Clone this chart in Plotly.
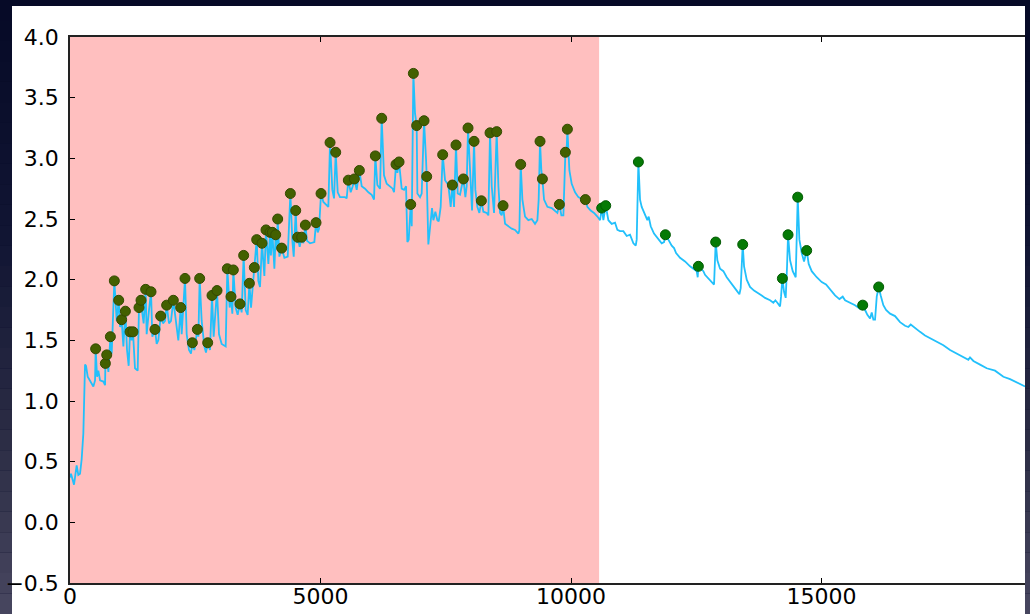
import plotly.graph_objects as go

# ---------------- data ----------------
line_x = [0, 20, 80, 133, 166, 200, 233, 266, 300, 320, 353, 400, 466, 500, 512, 540, 566, 600, 666, 700, 706, 733, 766, 806, 832,
          885, 932, 972, 1000, 1031, 1065, 1105, 1138, 1171, 1198, 1230, 1257, 1297, 1351, 1377, 1417, 1444, 1470, 1510,
          1530, 1577, 1617, 1643, 1696, 1730, 1763, 1810, 1856, 1896, 1929, 1976, 2016, 2062, 2109, 2162, 2209, 2229,
          2295, 2329, 2375, 2415, 2442, 2482, 2542, 2562, 2588, 2628, 2681, 2714, 2748, 2794, 2834, 2867, 2934, 2974,
          3027, 3107, 3140, 3187, 3213, 3240, 3260, 3306, 3346, 3393, 3426, 3466, 3506, 3546, 3580, 3613, 3679, 3726,
          3759, 3792, 3832, 3879, 3912, 3959, 3992, 4010, 4039, 4079, 4105, 4125, 4145, 4179, 4225, 4279, 4345, 4398,
          4438, 4465, 4505, 4530, 4544, 4584, 4624, 4658, 4698, 4731, 4791, 4877, 4910, 4944, 4970, 5010, 5057, 5123,
          5156, 5190, 5236, 5270, 5303, 5343, 5389, 5489, 5522, 5555, 5602, 5642, 5675, 5722, 5775, 5822, 5888, 5955,
          6021, 6068, 6094, 6134, 6188, 6221, 6267, 6321, 6387, 6440, 6467, 6507, 6534, 6567, 6620, 6667, 6707, 6733,
          6760, 6800, 6820, 6853, 6886, 6919, 6933, 6986, 7019, 7066, 7106, 7119, 7152, 7199, 7225, 7252, 7292, 7332,
          7359, 7398, 7438, 7485, 7551, 7598, 7631, 7665, 7704, 7738, 7784, 7818, 7851, 7891, 7917, 7944, 7984, 8024,
          8064, 8090, 8130, 8170, 8210, 8250, 8317, 8350, 8383, 8417, 8463, 8516, 8550, 8583, 8616, 8643, 8683, 8749,
          8816, 8882, 8949, 8969, 8995, 9029, 9082, 9148, 9215, 9281, 9328, 9354, 9381, 9407, 9428, 9461, 9528, 9614,
          9680, 9727, 9767, 9807, 9847, 9887, 9907, 9927, 9967, 10013, 10080, 10146, 10193, 10246, 10286, 10326,
          10392, 10459, 10526, 10579, 10612, 10645, 10692, 10745, 10812, 10878, 10925, 10978, 11044, 11078, 11111,
          11177, 11211, 11244, 11291, 11310, 11344, 11377, 11410, 11477, 11523, 11550, 11590, 11656, 11743, 11809,
          11856, 11883, 11942, 12009, 12056, 12096, 12175, 12275, 12375, 12455, 12508, 12528, 12541, 12588, 12641,
          12674, 12741, 12807, 12854, 12887, 12920, 12974, 13040, 13107, 13173, 13240, 13306, 13360, 13386, 13426,
          13453, 13506, 13572, 13652, 13739, 13805, 13872, 13972, 14038, 14078, 14118, 14171, 14191, 14218, 14251,
          14284, 14311, 14331, 14371, 14424, 14484, 14504, 14524, 14557, 14604, 14650, 14703, 14743, 14803, 14903,
          15003, 15089, 15169, 15269, 15356, 15422, 15469, 15568, 15668, 15768, 15821, 15868, 15914, 15968, 16001,
          16034, 16067, 16101, 16140, 16180, 16233, 16287, 16367, 16466, 16566, 16666, 16732, 16779, 16865, 16965,
          17065, 17165, 17298, 17431, 17564, 17697, 17830, 17930, 17963, 18030, 18163, 18296, 18462, 18629, 18762,
          18928, 19061]
line_y = [0.37, 0.40, 0.31, 0.47, 0.39, 0.40, 0.52, 0.73, 1.30, 1.29, 1.20, 1.17, 1.12, 1.17, 1.43, 1.20, 1.25, 1.17, 1.16, 1.13, 1.31, 1.38, 1.24, 1.53, 1.39,
          1.99, 1.66, 1.83, 1.61, 1.67, 1.45, 1.74, 1.42, 1.29, 1.57, 1.50, 1.57, 1.27, 1.25, 1.77, 1.83, 1.72, 1.64, 1.92,
          1.55, 1.75, 1.90, 1.53, 1.59, 1.47, 1.50, 1.70, 1.64, 1.66, 1.79, 1.64, 1.66, 1.83, 1.66, 1.50, 1.77, 1.55,
          2.01, 1.55, 1.42, 1.39, 1.48, 1.42, 1.59, 1.53, 2.01, 1.66, 1.45, 1.40, 1.48, 1.42, 1.87, 1.53, 1.91, 1.55,
          1.47, 1.45, 2.09, 1.77, 1.86, 1.72, 2.08, 1.77, 1.71, 1.80, 1.73, 2.20, 1.75, 1.71, 1.97, 1.77, 2.10, 2.33,
          1.99, 1.94, 2.30, 2.03, 2.41, 2.13, 2.39, 2.20, 2.39, 2.09, 2.37, 2.25, 2.50, 2.19, 2.26, 2.18, 2.19, 2.71,
          2.32, 2.19, 2.57, 2.30, 2.35, 2.27, 2.35, 2.30, 2.45, 2.32, 2.30, 2.31, 2.47, 2.39, 2.42, 2.71, 2.64, 2.61,
          2.60, 3.13, 2.74, 2.67, 3.05, 2.72, 2.68, 2.68, 2.67, 2.82, 2.72, 2.77, 2.83, 2.74, 2.90, 2.77, 2.75, 2.72,
          2.70, 2.66, 3.02, 2.78, 2.75, 3.33, 2.86, 2.79, 2.77, 2.75, 2.72, 2.95, 2.88, 2.97, 2.75, 2.74, 2.77, 2.31,
          2.33, 2.62, 2.44, 3.70, 3.37, 3.27, 2.71, 2.68, 2.71, 3.31, 2.99, 2.85, 2.29, 2.46, 2.59, 2.49, 2.56, 2.49,
          2.48, 2.60, 3.03, 2.82, 2.78, 2.60, 2.78, 2.60, 3.11, 2.71, 2.70, 2.77, 2.83, 2.68, 2.77, 3.25, 2.85, 2.57,
          3.14, 2.74, 2.60, 2.55, 2.65, 2.56, 2.55, 2.53, 3.21, 2.77, 2.55, 3.22, 2.77, 2.55, 2.53, 2.61, 2.46, 2.44,
          2.42, 2.41, 2.38, 2.41, 2.95, 2.66, 2.52, 2.49, 2.50, 2.46, 2.49, 2.66, 3.14, 2.90, 2.83, 2.66, 2.60, 2.59,
          2.57, 2.55, 2.62, 2.53, 2.53, 3.05, 3.01, 3.24, 2.90, 2.79, 2.72, 2.68, 2.67, 2.63, 2.66, 2.60,
          2.57, 2.55, 2.52, 2.49, 2.59, 2.49, 2.61, 2.49, 2.46, 2.47, 2.41, 2.40, 2.40, 2.38, 2.36,
          2.37, 2.33, 2.30, 2.28, 2.33, 2.97, 2.66, 2.60, 2.53, 2.49, 2.52, 2.44, 2.38, 2.33, 2.30,
          2.31, 2.37, 2.33, 2.28, 2.26, 2.22, 2.18, 2.15, 2.11, 2.09, 2.07, 2.02, 2.11, 2.09, 2.07,
          2.04, 2.01, 1.98, 1.96, 2.31, 2.16, 2.09, 2.07, 2.02, 1.98, 1.94, 1.91, 1.88, 1.93, 2.29,
          2.11, 2.00, 1.94, 1.91, 1.89, 1.87, 1.85, 1.83, 1.81, 1.83, 1.81, 1.78, 1.86, 2.01, 1.90,
          1.85, 2.11, 2.37, 2.16, 2.07, 2.02, 2.33, 2.68, 2.33, 2.22, 2.15, 2.24, 2.13, 2.07, 2.02,
          1.98, 1.96, 1.92, 1.87, 1.84, 1.86, 1.83, 1.81, 1.79, 1.76, 1.79, 1.75, 1.71, 1.68, 1.73,
          1.67, 1.67, 1.86, 1.94, 1.87, 1.79, 1.75, 1.72, 1.70, 1.65, 1.62, 1.61, 1.63, 1.60, 1.57,
          1.54, 1.52, 1.49, 1.46, 1.42, 1.39, 1.36, 1.34, 1.36, 1.33, 1.30, 1.27, 1.25, 1.20, 1.18,
          1.15, 1.12]

peak_x = [512, 706, 733, 806, 885, 972, 1031, 1105, 1198, 1257, 1377, 1417, 1510, 1617, 1696, 1810, 1929, 2062, 2209,
          2295, 2442, 2542, 2588, 2748, 2834, 2934, 3140, 3213, 3260, 3393, 3466, 3580, 3679, 3726, 3832, 3912, 3992,
          4039, 4105, 4145, 4225, 4398, 4505, 4544, 4624, 4698, 4910, 5010, 5190, 5303, 5555, 5675, 5775, 6094, 6221,
          6507, 6567, 6800, 6853, 6919, 7066, 7119, 7438, 7631, 7704, 7851, 7944, 8064, 8210, 8383, 8516, 8643, 8995,
          9381, 9428, 9767, 9887, 9927, 10286, 10612, 10692, 11344, 11883, 12541, 12887, 13426, 14218, 14331, 14524,
          14703, 15821, 16140]
peak_y = [1.43, 1.31, 1.38, 1.53, 1.99, 1.83, 1.67, 1.74, 1.57, 1.57, 1.77, 1.83, 1.92, 1.90, 1.59, 1.70, 1.79, 1.83, 1.77,
          2.01, 1.48, 1.59, 2.01, 1.48, 1.87, 1.91, 2.09, 1.86, 2.08, 1.80, 2.20, 1.97, 2.10, 2.33, 2.30, 2.41, 2.39,
          2.39, 2.37, 2.50, 2.26, 2.71, 2.57, 2.35, 2.35, 2.45, 2.47, 2.71, 3.13, 3.05, 2.82, 2.83, 2.90, 3.02, 3.33,
          2.95, 2.97, 2.62, 3.70, 3.27, 3.31, 2.85, 3.03, 2.78, 3.11, 2.83, 3.25, 3.14, 2.65, 3.21, 3.22, 2.61, 2.95,
          3.14, 2.83, 2.62, 3.05, 3.24, 2.66, 2.59, 2.61, 2.97, 2.37, 2.11, 2.31, 2.29, 2.01, 2.37, 2.68,
          2.24, 1.79, 1.94]

span_end = 10560
x_range = [0, 19060]
y_range = [-0.5, 4.0]
y_ticks = [-0.5, 0.0, 0.5, 1.0, 1.5, 2.0, 2.5, 3.0, 3.5, 4.0]
x_ticks = [0, 5000, 10000, 15000]

# ---------------- figure ----------------
W, H = 1030, 614
ML, MR, MT, MB = 70, 5, 37, 31
pw, ph = W - ML - MR, H - MT - MB

fig = go.Figure()

fig.add_trace(go.Scatter(x=line_x, y=line_y, mode="lines",
                         line=dict(color="#22c0fb", width=1.8), hoverinfo="skip", showlegend=False))

in_x = [a for a in peak_x if a < span_end]
in_y = [b for a, b in zip(peak_x, peak_y) if a < span_end]
out_x = [a for a in peak_x if a >= span_end]
out_y = [b for a, b in zip(peak_x, peak_y) if a >= span_end]

fig.add_trace(go.Scatter(x=in_x, y=in_y, mode="markers",
                         marker=dict(size=10, color="#436000", line=dict(color="#354a00", width=1)),
                         showlegend=False))
fig.add_trace(go.Scatter(x=out_x, y=out_y, mode="markers",
                         marker=dict(size=10, color="#057a05", line=dict(color="#035a03", width=1)),
                         showlegend=False))

shapes = []


def px2paper_x(p):
    return (p - ML) / pw


def py2paper_y(p):
    return (H - MB - p) / ph


# dark gradient background strips (stepped)
stops = [(0, (6, 9, 38)), (250, (18, 22, 52)), (450, (45, 46, 70)), (614, (72, 70, 96))]


def col_at(py):
    for (p0, c0), (p1, c1) in zip(stops[:-1], stops[1:]):
        if p0 <= py <= p1:
            t = (py - p0) / (p1 - p0)
            return "rgb(%d,%d,%d)" % tuple(round(c0[i] + (c1[i] - c0[i]) * t) for i in range(3))
    return "rgb(%d,%d,%d)" % stops[-1][1]


n = 30
for i in range(n):
    y0p = H * i / n
    y1p = H * (i + 1) / n
    c = col_at((y0p + y1p) / 2)
    shapes.append(dict(type="rect", xref="paper", yref="paper", layer="below",
                       x0=px2paper_x(0), x1=px2paper_x(W), y0=py2paper_y(y1p), y1=py2paper_y(y0p),
                       fillcolor=c, line=dict(width=0)))

# white figure panel
shapes.append(dict(type="rect", xref="paper", yref="paper", layer="below",
                   x0=px2paper_x(12), x1=px2paper_x(1025), y0=py2paper_y(H + 2), y1=py2paper_y(6),
                   fillcolor="white", line=dict(width=0)))

# pink highlighted span
shapes.append(dict(type="rect", xref="x", yref="y", layer="below",
                   x0=0, x1=span_end, y0=y_range[0], y1=y_range[1],
                   fillcolor="#ffbfbf", line=dict(width=0)))

fig.update_layout(
    width=W, height=H,
    margin=dict(l=ML, r=MR, t=MT, b=MB, pad=0, autoexpand=False),
    paper_bgcolor="#0a0d2a",
    plot_bgcolor="white",
    shapes=shapes,
    font=dict(family="DejaVu Sans", size=22, color="black"),
    showlegend=False,
    xaxis=dict(range=x_range, tickvals=x_ticks, tickformat="d", ticks="inside", ticklen=5,
               tickcolor="black", tickwidth=1, showline=True, linecolor="#222222", linewidth=1.5,
               mirror="allticks", showgrid=False, zeroline=False, ticklabelstandoff=-7, automargin=False),
    yaxis=dict(range=y_range, tickvals=y_ticks, tickformat=".1f", ticks="inside", ticklen=5,
               tickcolor="black", tickwidth=1, showline=True, linecolor="#222222", linewidth=1.5,
               mirror=False, showgrid=False, zeroline=False, ticklabelstandoff=5, automargin=False),
)

fig.write_html("out.html", config={"displayModeBar": False},
               post_script="document.body.style.margin='0';document.body.style.overflow='hidden';")
